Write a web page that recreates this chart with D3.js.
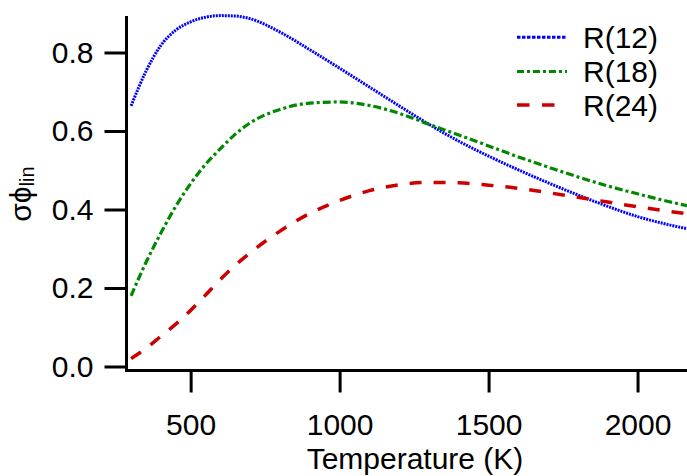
<!DOCTYPE html>
<html><head><meta charset="utf-8">
<script src="https://cdn.jsdelivr.net/npm/d3@7"></script>
<style>
html,body{margin:0;padding:0;background:#fff;}
svg{display:block;font-family:"Liberation Sans",Arial,Helvetica,sans-serif;}
</style></head>
<body>
<svg id="chart" width="687" height="476"></svg>
<script>
const temperature = [300,350,400,450,500,550,600,650,700,800,900,1000,1100,1200,1300,1400,1500,1600,1700,1800,1900,2000,2100,2200];
const r12 = [0.664,0.752,0.818,0.857,0.878,0.890,0.894,0.893,0.886,0.852,0.807,0.760,0.712,0.664,0.617,0.574,0.536,0.501,0.468,0.437,0.408,0.382,0.362,0.346];
const r18 = [0.180,0.265,0.340,0.408,0.466,0.515,0.555,0.592,0.621,0.655,0.671,0.674,0.665,0.645,0.617,0.590,0.562,0.534,0.508,0.483,0.460,0.440,0.421,0.404];
const r24 = [0.020,0.046,0.077,0.108,0.143,0.182,0.222,0.258,0.290,0.345,0.390,0.423,0.448,0.463,0.469,0.468,0.462,0.454,0.443,0.431,0.419,0.407,0.396,0.386];
const seriesNames = ["R(12)","R(18)","R(24)"];
const seriesColors = ["#0000ff","#008800","#cc0000"];
const xTicks = [500,1000,1500,2000];
const yTicks = [0.0,0.2,0.4,0.6,0.8];

const svg = d3.select("#chart");
const x = d3.scaleLinear().domain([283,2166]).range([126,687]);
const y = d3.scaleLinear().domain([-0.0102,0.893]).range([370.5,16]);

const dashCurve = ["2,1","8,3,3,3","12,12"];
const dashLegend = ["3.5,1.5","7,3,3,3","12.5,12.5"];
const widths = [3,3.2,3.5];
const seriesVals = [r12,r18,r24];

const line = d3.line().x(d=>x(d[0])).y(d=>y(d[1])).curve(d3.curveMonotoneX);
seriesVals.forEach((vals,i)=>{
  svg.append("path")
    .datum(temperature.map((t,j)=>[t,vals[j]]))
    .attr("d",line)
    .attr("fill","none")
    .attr("stroke",seriesColors[i])
    .attr("stroke-width",widths[i])
    .attr("stroke-dasharray",dashCurve[i]);
});

// axes
const xAxis = d3.axisBottom(x).tickValues(xTicks).tickSize(22).tickSizeOuter(0).tickPadding(21).tickFormat(d3.format("d"));
const gx = svg.append("g").attr("transform","translate(0,370.5)").call(xAxis);
const yAxis = d3.axisLeft(y).tickValues(yTicks).tickSize(22).tickSizeOuter(0).tickPadding(11).tickFormat(d3.format(".1f"));
const gy = svg.append("g").attr("transform","translate(126.5,0)").call(yAxis);
[gx,gy].forEach(g=>{
  g.selectAll("path.domain").attr("stroke","#000").attr("stroke-width",3);
  g.selectAll(".tick line").attr("stroke","#000").attr("stroke-width",3);
  g.selectAll(".tick text").attr("font-size",30).attr("fill","#000").attr("font-family","Liberation Sans, Arial, sans-serif");
});
gx.select("path.domain").attr("d","M125,0H687");
gy.select("path.domain").attr("d","M0,16V372");

// axis titles
svg.append("text").attr("x",415).attr("y",469).attr("text-anchor","middle")
  .attr("font-size",30).text("Temperature (K)");
const yt = svg.append("text").attr("transform","translate(31,194) rotate(-90)")
  .attr("text-anchor","middle").attr("font-size",30);
yt.append("tspan").text("σϕ");
yt.append("tspan").attr("font-size",20).attr("dy",3).text("lin");

// legend
const legY = [37.3,71.5,105];
seriesNames.forEach((n,i)=>{
  svg.append("line").attr("x1",517).attr("x2",567).attr("y1",legY[i]).attr("y2",legY[i])
    .attr("stroke",seriesColors[i]).attr("stroke-width",widths[i]).attr("stroke-dasharray",dashLegend[i]);
  svg.append("text").attr("x",583).attr("y",legY[i]+10.5).attr("font-size",30).text(n);
});
</script>
</body></html>
